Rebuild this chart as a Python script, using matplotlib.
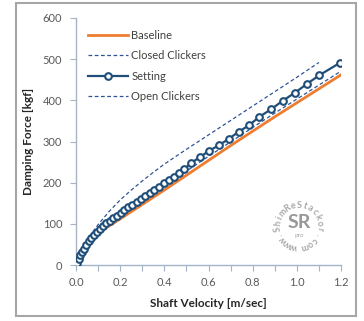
import numpy as np
import matplotlib.pyplot as plt
from matplotlib.patches import Rectangle
from matplotlib.ticker import MultipleLocator

# damper curves: shaft velocity [m/sec] vs damping force [kgf]
base_v = [0, 0.01, 0.02, 0.03, 0.05, 0.075, 0.1, 0.15, 0.2, 0.3, 0.4, 0.5,
          0.6, 0.7, 0.8, 0.9, 1.0, 1.1, 1.2]
base_f = [0, 10, 19, 27, 42, 59, 78, 95, 112, 147, 182, 218,
          254, 290, 325, 360, 394, 428, 462]

closed_v = [0, 0.005, 0.01, 0.02, 0.03, 0.05, 0.075, 0.1, 0.15, 0.2, 0.25,
            0.3, 0.35, 0.4, 0.45, 0.5, 0.6, 0.7, 0.8, 0.9, 1.0, 1.1]
closed_f = [0, 10, 18, 30, 40, 60, 80, 98, 130, 158, 182,
            204, 225, 245, 263, 281, 316, 351, 386, 421, 456, 492]

open_v = [0, 0.01, 0.02, 0.03, 0.05, 0.075, 0.1, 0.15, 0.2, 0.3, 0.4, 0.5,
          0.6, 0.7, 0.8, 0.9, 1.0, 1.1, 1.2]
open_f = [0, 12, 22, 31, 47, 64, 80, 102, 121, 157, 192, 228,
          264, 299, 334, 369, 403, 437, 471]

setting_v = [0.000, 0.005, 0.012, 0.020, 0.028, 0.037, 0.047, 0.058, 0.070,
             0.082, 0.095, 0.109, 0.123, 0.138, 0.153, 0.169, 0.185, 0.202,
             0.219, 0.237, 0.255, 0.274, 0.293, 0.313, 0.333, 0.354, 0.375,
             0.397, 0.419, 0.442, 0.465, 0.489, 0.519, 0.561, 0.604, 0.648,
             0.693, 0.738, 0.785, 0.830, 0.883, 0.936, 0.990, 1.046, 1.102,
             1.195]
setting_f = [0, 6, 15, 24, 32, 40, 48, 58, 66,
             74, 81, 88, 95, 101, 108, 114, 120, 127,
             133, 140, 146, 153, 160, 167, 175, 182, 190,
             198, 206, 214, 223, 232, 247, 262, 278, 291,
             307, 324, 340, 360, 378, 399, 418, 440, 461,
             491]

W, H = 364, 321
plt.rcParams['font.family'] = ['Lato', 'DejaVu Sans']
fig = plt.figure(figsize=(W / 100, H / 100), dpi=100)
fig.patches.append(Rectangle((16 / W, 1 - 316 / H), 340 / W, 313 / H,
                             transform=fig.transFigure, fill=False,
                             edgecolor='#a6a6a6', linewidth=1.5))

ax = fig.add_axes([76 / W, 1 - 265 / H, 265 / W, 247 / H])
ax.plot(base_v, base_f, color='#ed7d31', lw=2.0, label='Baseline', zorder=2)
ax.plot(closed_v, closed_f, color='#2f5597', lw=0.9, ls=(0, (3, 2)),
        label='Closed Clickers', zorder=3)
ax.plot(setting_v, setting_f, color='#1f4e79', lw=1.6, marker='o', ms=4.8,
        mfc='white', mec='#1f4e79', mew=1.5, label='Setting', zorder=5)
ax.plot(open_v, open_f, color='#2f5597', lw=0.9, ls=(0, (3, 2)),
        label='Open Clickers', zorder=4)

ax.set_xlim(0, 1.2)
ax.set_ylim(0, 600)
ax.xaxis.set_major_locator(MultipleLocator(0.2))
ax.xaxis.set_minor_locator(MultipleLocator(0.1))
ax.yaxis.set_major_locator(MultipleLocator(100))
ax.xaxis.set_major_formatter(plt.FuncFormatter(lambda v, p: f'{v:.1f}'))
for s in ['top', 'right']:
    ax.spines[s].set_visible(False)
for s in ['left', 'bottom']:
    ax.spines[s].set_color('#a5b3c8')
    ax.spines[s].set_linewidth(1.0)
ax.tick_params(which='both', direction='out', length=4, width=0.8,
               color='#a5b3c8', labelsize=8, labelcolor='#595959')
ax.tick_params(axis='x', pad=5)
ax.tick_params(axis='y', pad=6)
ax.set_xlabel('Shaft Velocity [m/sec]', fontsize=8.5, fontweight='bold',
              color='#262626', labelpad=7)
ax.set_ylabel('Damping Force [kgf]', fontsize=8.5, fontweight='bold',
              color='#262626', labelpad=6)

leg = ax.legend(loc='upper left', bbox_to_anchor=(0.03, 0.97), frameon=False,
                fontsize=8, handlelength=3.6, handletextpad=0.25,
                labelspacing=0.85, borderaxespad=0)
for t in leg.get_texts():
    t.set_color('#404040')

# circular watermark in the lower right
cx, cy, r = 299, 226, 21
word = 'www.ShimReStackor.com'
angles = np.linspace(255, -75, len(word))
for ch, a in zip(word, angles):
    px = cx + r * np.cos(np.radians(a))
    py = cy - r * np.sin(np.radians(a))
    fig.text(px / W, 1 - py / H, ch, fontsize=6.5, color='#a8a8a8',
             rotation=a - 90, ha='center', va='center', fontweight='bold')
fig.text(cx / W, 1 - (cy - 3) / H, 'SR', fontsize=14, color='#999999',
         ha='center', va='center', fontweight='bold')
fig.text(cx / W, 1 - (cy + 9) / H, 'pro', fontsize=4.5, color='#a8a8a8',
         ha='center', va='center')

fig.savefig('out.png', dpi=100)
